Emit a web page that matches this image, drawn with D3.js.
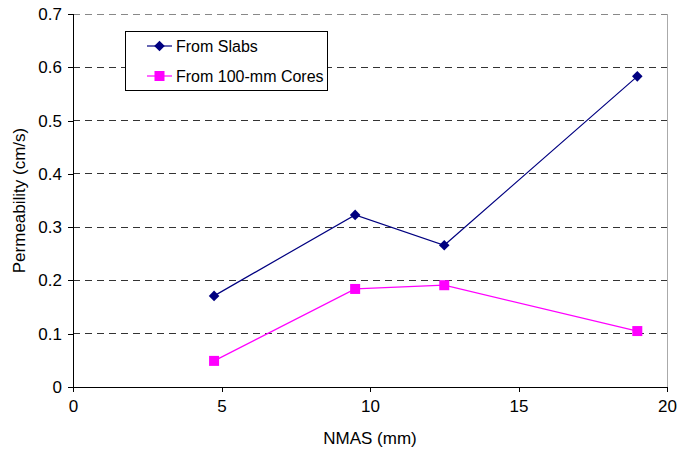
<!DOCTYPE html>
<html><head><meta charset="utf-8">
<script src="https://cdn.jsdelivr.net/npm/d3@7"></script>
<style>body{margin:0;background:#fff}text{font-family:"Liberation Sans",Arial,sans-serif;fill:#000}</style>
</head><body><svg id="c" width="677" height="452"></svg>
<script>
const nmas = [4.75, 9.5, 12.5, 19];
const slabs = [0.171, 0.323, 0.266, 0.583];
const cores = [0.049, 0.184, 0.191, 0.105];
const xTicks = [0, 5, 10, 15, 20];
const yTicks = [0, 0.1, 0.2, 0.3, 0.4, 0.5, 0.6, 0.7];
const seriesNames = ["From Slabs", "From 100-mm Cores"];

const svg = d3.select("#c");
const m = {l: 73, r: 667, t: 14, b: 387};
const x = d3.scaleLinear().domain([0, 20]).range([m.l, m.r]);
const y = d3.scaleLinear().domain([0, 0.7]).range([m.b, m.t]);

svg.append("g").selectAll("line").data(yTicks.filter(d => d > 0)).join("line")
  .attr("x1", m.l).attr("x2", m.r).attr("y1", d => y(d)).attr("y2", d => y(d))
  .attr("stroke", d => d === 0.7 ? "#888" : "#333").attr("stroke-dasharray", "7,5").attr("stroke-width", 1)
  .attr("shape-rendering", "crispEdges");
svg.append("line").attr("x1", m.r).attr("x2", m.r).attr("y1", m.t).attr("y2", m.b)
  .attr("stroke", "#aaa").attr("shape-rendering", "crispEdges");

const xAxis = d3.axisBottom(x).tickValues(xTicks).tickSize(5).tickPadding(8).tickFormat(d3.format("d"));
const gx = svg.append("g").attr("transform", `translate(0,${m.b})`).call(xAxis);
const yAxis = d3.axisLeft(y).tickValues(yTicks).tickSize(5).tickPadding(6).tickFormat(d => d === 0 ? "0" : d3.format(".1f")(d));
const gy = svg.append("g").attr("transform", `translate(${m.l},0)`).call(yAxis);
[gx, gy].forEach(g => {
  g.select(".domain").attr("stroke", "#000").attr("shape-rendering", "crispEdges");
  g.selectAll(".tick line").attr("stroke", "#000").attr("shape-rendering", "crispEdges");
  g.selectAll("text").attr("font-size", 17).attr("font-family", "Liberation Sans, Arial, sans-serif").attr("fill", "#000");
});
gx.select(".domain").attr("d", `M${m.l},0H${m.r}`);
gy.select(".domain").attr("d", `M0,${m.b}V${m.t}`);

svg.append("text").attr("x", (m.l + m.r) / 2).attr("y", 444).attr("text-anchor", "middle")
  .attr("font-size", 17).text("NMAS (mm)");
svg.append("text").attr("transform", `translate(25,${(m.t + m.b) / 2}) rotate(-90)`).attr("text-anchor", "middle")
  .attr("font-size", 17).text("Permeability (cm/s)");

const line = d3.line().x((d, i) => x(nmas[i])).y(d => y(d));
const colors = ["#000080", "#ff00ff"];
[slabs, cores].forEach((s, k) => {
  svg.append("path").datum(s).attr("d", line).attr("fill", "none").attr("stroke", colors[k]).attr("stroke-width", 1.2);
});
svg.append("g").selectAll("path").data(slabs).join("path")
  .attr("d", d3.symbol().type(d3.symbolSquare).size(56)).attr("transform", (d, i) => `translate(${x(nmas[i])},${y(d)}) rotate(45)`)
  .attr("fill", colors[0]);
svg.append("g").selectAll("rect").data(cores).join("rect")
  .attr("x", (d, i) => x(nmas[i]) - 5).attr("y", d => y(d) - 5).attr("width", 10).attr("height", 10)
  .attr("fill", colors[1]);

const lg = svg.append("g");
lg.append("rect").attr("x", 125.5).attr("y", 31.5).attr("width", 202).attr("height", 59)
  .attr("fill", "#fff").attr("stroke", "#000").attr("shape-rendering", "crispEdges");
seriesNames.forEach((n, k) => {
  const ly = 46 + k * 30;
  lg.append("line").attr("x1", 147).attr("x2", 172).attr("y1", ly).attr("y2", ly).attr("stroke", colors[k]).attr("stroke-width", 1.2);
  if (k === 0) lg.append("path").attr("d", d3.symbol().type(d3.symbolSquare).size(56)).attr("transform", `translate(159.5,${ly}) rotate(45)`).attr("fill", colors[0]);
  else lg.append("rect").attr("x", 154.5).attr("y", ly - 5).attr("width", 10).attr("height", 10).attr("fill", colors[1]);
  lg.append("text").attr("x", 176).attr("y", ly + 5.5).attr("font-size", 16).text(n);
});
</script></body></html>
